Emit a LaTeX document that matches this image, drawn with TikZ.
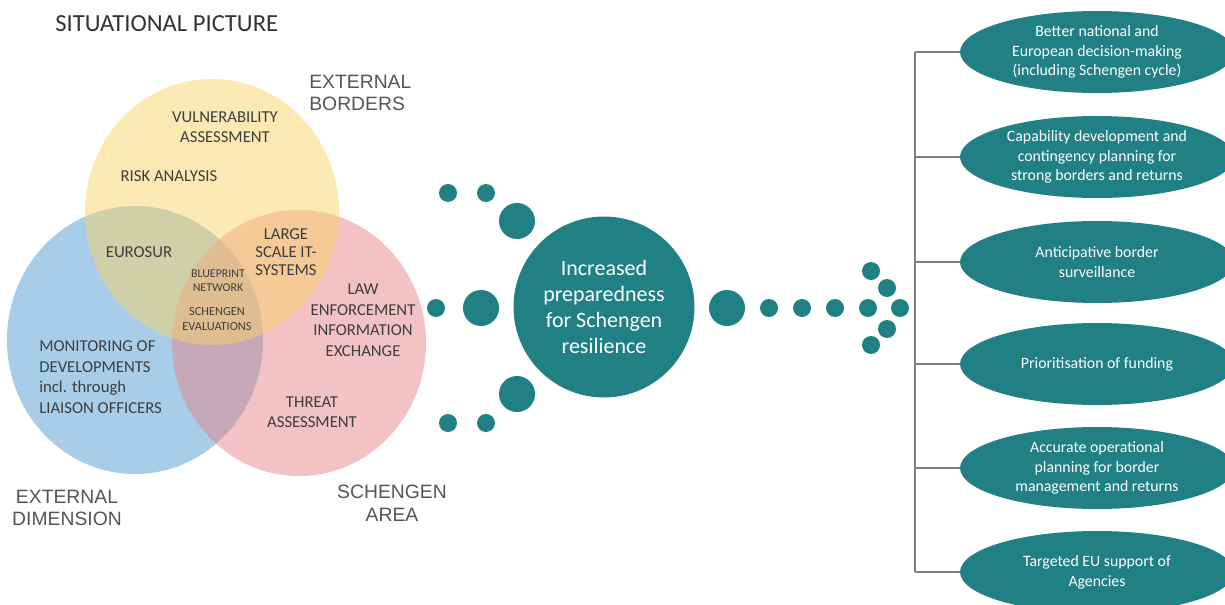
\documentclass[tikz,border=0pt]{standalone}
\usepackage{fontspec}
\setmainfont{Carlito}
\newfontfamily\labelfont{Liberation Sans}
\usepackage{tikz}
\usetikzlibrary{shapes.geometric}
\definecolor{schengenteal}{RGB}{32,128,131}
\definecolor{borderyellow}{RGB}{249,211,105}
\definecolor{dimensionblue}{RGB}{79,155,209}
\definecolor{areapink}{RGB}{229,133,137}
\definecolor{labelgray}{RGB}{85,85,85}
\definecolor{textgray}{RGB}{62,62,62}
\definecolor{spinegray}{RGB}{120,130,130}

\begin{document}
\begin{tikzpicture}[x=0.02cm,y=0.02cm,
    area/.style={font=\labelfont\fontsize{11}{13}\selectfont,text=labelgray,inner sep=0pt},
    item/.style={font=\fontsize{9.5}{11.7}\selectfont,text=textgray,align=center,inner sep=0pt},
    tiny/.style={item,font=\fontsize{6.8}{7.8}\selectfont},
    goal/.style={ellipse,fill=schengenteal,text=white,minimum width=5.48cm,
        minimum height=1.64cm,inner sep=0pt,align=center,font=\fontsize{9}{11.3}\selectfont}]
                \useasboundingbox (0,0) rectangle (1225,-605);
                \node[anchor=west,inner sep=0pt,font=\fontsize{14}{16}\selectfont,text=black!80] (title) at (55,-24) {SITUATIONAL PICTURE};
                % Venn circles
                \fill[dimensionblue,fill opacity=0.5] (135,-340) ellipse [x radius=128, y radius=134];
                \fill[areapink,fill opacity=0.5] (299,-343) ellipse [x radius=127, y radius=133];
                \fill[borderyellow,fill opacity=0.5] (212,-212) ellipse [x radius=127, y radius=133];
                \node[area,anchor=west,align=left] (borders) at (309,-93) {EXTERNAL\\BORDERS};
                \node[area,align=center] (dimension) at (67,-508) {EXTERNAL\\DIMENSION};
                \node[area,align=center] (schengenarea) at (392,-503) {SCHENGEN\\AREA};
                % Venn contents
                \node[item] (vulnerability) at (225,-127) {VULNERABILITY\\ASSESSMENT};
                \node[item] (risk) at (169,-176) {RISK ANALYSIS};
                \node[item] (eurosur) at (139,-252) {EUROSUR};
                \node[item,font=\fontsize{9.5}{10.3}\selectfont] (itsystems) at (286,-252) {LARGE\\SCALE IT-\\SYSTEMS};
                \node[tiny] (blueprint) at (218,-281) {BLUEPRINT\\NETWORK};
                \node[tiny,font=\fontsize{7}{8.5}\selectfont] (evaluations) at (217,-319) {SCHENGEN\\EVALUATIONS};
                \node[item] (lawenf) at (363,-320) {LAW\\ENFORCEMENT\\INFORMATION\\EXCHANGE};
                \node[item,anchor=west,align=left] (monitoring) at (39,-377) {MONITORING OF\\DEVELOPMENTS\\incl. through\\LIAISON OFFICERS};
                \node[item] (threat) at (312,-412) {THREAT\\ASSESSMENT};
                % Centre
                \node[circle,fill=schengenteal,minimum size=3.62cm,inner sep=0pt,text=white,align=center,
                    font=\fontsize{12.5}{14.7}\selectfont] (resilience) at (604,-307) {Increased\\preparedness\\for Schengen\\resilience};
                % Dots
                \foreach \x/\y/\r in {448/193/9, 486/193/9, 517/221/18, 436/308/9, 481/308/18,
                        517/394/18, 448/423/9, 486/423/9, 727/308/18, 769/308/9, 802/308/9, 835/308/9,
                        871/271/9, 887/288/9, 868/308/9, 900/308/9, 887/329/9, 871/345/9}
                    \fill[schengenteal] (\x,-\y) circle (\r);
                % Outcomes
                \node[goal] (goal1) at (1097,-52) {Better national and\\European decision-making\\(including Schengen cycle)};
                \node[goal] (goal2) at (1097,-157) {Capability development and\\contingency planning for\\strong borders and returns};
                \node[goal] (goal3) at (1097,-262) {Anticipative border\\surveillance};
                \node[goal] (goal4) at (1097,-364) {Prioritisation of funding};
                \node[goal] (goal5) at (1097,-468) {Accurate operational\\planning for border\\management and returns};
                \node[goal] (goal6) at (1097,-572) {Targeted EU support of\\Agencies};
                \coordinate (spinetop) at (915,-52);
                \coordinate (spinebot) at (915,-572);
                \draw[spinegray,line width=0.8pt] (spinetop) -- (spinebot);
                \foreach \g in {1,...,6}
                    \draw[spinegray,line width=0.8pt] (spinetop |- goal\g.west) -- (goal\g.west);
            \end{tikzpicture}
\end{document}
